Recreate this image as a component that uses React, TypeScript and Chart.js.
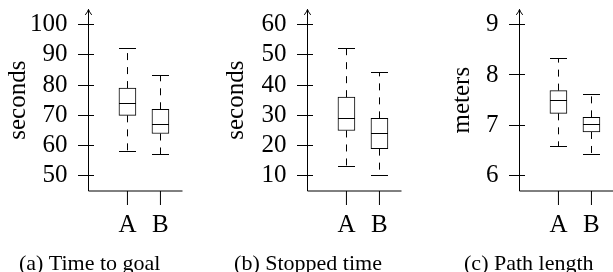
import React, { useEffect, useRef } from "react";
import { Chart, registerables } from "chart.js";

Chart.register(...registerables);

// ---- data ----
const categories = ["A", "B"];
const categoryPositions = [1, 2];

// (a) Time to goal, seconds
const timeMin = [58, 57];
const timeQ1 = [70, 64];
const timeMedian = [74, 67];
const timeQ3 = [79, 72];
const timeMax = [92, 83];
const timeTicks = [50, 60, 70, 80, 90, 100];

// (b) Stopped time, seconds
const stopMin = [13, 10];
const stopQ1 = [25, 19];
const stopMedian = [29, 24];
const stopQ3 = [36, 29];
const stopMax = [52, 44];
const stopTicks = [10, 20, 30, 40, 50, 60];

// (c) Path length, meters
const pathMin = [6.58, 6.43];
const pathQ1 = [7.24, 6.87];
const pathMedian = [7.5, 7.01];
const pathQ3 = [7.69, 7.16];
const pathMax = [8.32, 7.61];
const pathTicks = [6, 7, 8, 9];

// ---- layout constants ----
const W = 613;
const H = 272;
const FONT = '"Liberation Serif", "Times New Roman", serif';
const AXIS_LEN = 94;
const X_MIN = -0.18;
const X_UNIT = 33;
const TOP = 9.4;
const BOTTOM = 191;
const X_SCALE_H = 60;
const Y_SCALE_W = 85;
const BOX_W = 17;

type Panel = {
  axisLeft: number;
  yMin: number;
  yMax: number;
  ticks: number[];
  lo: number[];
  q1: number[];
  med: number[];
  q3: number[];
  hi: number[];
  title: string;
  titleX: number;
  caption: string;
  captionX: number;
};

const panels: Panel[] = [
  { axisLeft: 88.5, yMin: 45, yMax: 105, ticks: timeTicks, lo: timeMin, q1: timeQ1, med: timeMedian, q3: timeQ3, hi: timeMax, title: "seconds", titleX: 25, caption: "(a) Time to goal", captionX: 89.7 },
  { axisLeft: 307.5, yMin: 5, yMax: 65, ticks: stopTicks, lo: stopMin, q1: stopQ1, med: stopMedian, q3: stopQ3, hi: stopMax, title: "seconds", titleX: 243.3, caption: "(b) Stopped time", captionX: 308 },
  { axisLeft: 519.5, yMin: 5.7, yMax: 9.3, ticks: pathTicks, lo: pathMin, q1: pathQ1, med: pathMedian, q3: pathQ3, hi: pathMax, title: "meters", titleX: 469.3, caption: "(c) Path length", captionX: 528.8 },
];

const snap = (v: number) => Math.round(v - 0.5) + 0.5;

function makeConfig(p: Panel): any {
  const right = Math.min(p.axisLeft + AXIS_LEN, W);
  const xMax = X_MIN + (right - p.axisLeft) / X_UNIT;
  const plugin = {
    id: "boxplotDecor",
    afterDatasetsDraw(chart: any) {
      const ctx = chart.ctx as CanvasRenderingContext2D;
      const { left, top, bottom } = chart.chartArea;
      const xs = chart.scales.x;
      const ys = chart.scales.y;
      ctx.save();
      ctx.strokeStyle = "#000";
      ctx.fillStyle = "#000";
      ctx.lineWidth = 1;
      // y axis with arrow
      ctx.beginPath();
      ctx.moveTo(left, bottom);
      ctx.lineTo(left, top);
      ctx.stroke();
      ctx.beginPath();
      ctx.moveTo(left - 3.2, top + 5.5);
      ctx.quadraticCurveTo(left - 0.6, top + 2.2, left, top);
      ctx.quadraticCurveTo(left + 0.6, top + 2.2, left + 3.2, top + 5.5);
      ctx.stroke();
      // y ticks
      ctx.beginPath();
      for (const v of p.ticks) {
        const y = snap(ys.getPixelForValue(v));
        ctx.moveTo(left - 10.5, y);
        ctx.lineTo(left + 5.5, y);
      }
      ctx.stroke();
      // x axis
      ctx.beginPath();
      ctx.moveTo(left, bottom);
      ctx.lineTo(left + AXIS_LEN, bottom);
      ctx.stroke();
      // x ticks
      ctx.beginPath();
      for (const c of categoryPositions) {
        const x = xs.getPixelForValue(c);
        ctx.moveTo(x, bottom);
        ctx.lineTo(x, bottom + 14);
      }
      ctx.stroke();
      // whiskers, caps, medians
      categoryPositions.forEach((c, i) => {
        const x = snap(xs.getPixelForValue(c));
        const half = BOX_W / 2;
        const yHi = snap(ys.getPixelForValue(p.hi[i]));
        const yLo = snap(ys.getPixelForValue(p.lo[i]));
        const yQ1 = ys.getPixelForValue(p.q1[i]);
        const yQ3 = ys.getPixelForValue(p.q3[i]);
        const yMed = snap(ys.getPixelForValue(p.med[i]));
        ctx.setLineDash([7, 7]);
        ctx.beginPath();
        ctx.moveTo(x, yQ3);
        ctx.lineTo(x, yHi);
        ctx.stroke();
        ctx.beginPath();
        ctx.moveTo(x, yQ1);
        ctx.lineTo(x, yLo);
        ctx.stroke();
        ctx.setLineDash([]);
        ctx.beginPath();
        ctx.moveTo(x - half, yHi);
        ctx.lineTo(x + half, yHi);
        ctx.moveTo(x - half, yLo);
        ctx.lineTo(x + half, yLo);
        ctx.moveTo(x - half, yMed);
        ctx.lineTo(x + half, yMed);
        ctx.stroke();
      });
      // axis title
      ctx.font = `25px ${FONT}`;
      ctx.textAlign = "center";
      ctx.textBaseline = "alphabetic";
      ctx.save();
      ctx.translate(p.titleX, (top + bottom) / 2);
      ctx.rotate(-Math.PI / 2);
      ctx.fillText(p.title, 0, 0);
      ctx.restore();
      // caption
      ctx.font = `22px ${FONT}`;
      ctx.fillText(p.caption, p.captionX, 270);
      ctx.restore();
    },
  };

  return {
    type: "bar",
    data: {
      datasets: [
        {
          data: categoryPositions.map((c, i) => ({ x: c, y: [p.q1[i], p.q3[i]] })),
          backgroundColor: "#fff",
          borderColor: "#000",
          borderWidth: 1,
          borderSkipped: false,
          barThickness: BOX_W,
        },
      ],
    },
    options: {
      responsive: false,
      animation: false,
      events: [],
      layout: {
        padding: {
          left: p.axisLeft - Y_SCALE_W,
          right: W - right,
          top: TOP,
          bottom: H - BOTTOM - X_SCALE_H,
        },
      },
      plugins: { legend: { display: false }, tooltip: { enabled: false }, title: { display: false } },
      scales: {
        x: {
          type: "linear",
          min: X_MIN,
          max: xMax,
          offset: false,
          grid: { display: false, drawTicks: false, offset: false },
          border: { display: false },
          afterBuildTicks: (s: any) => {
            s.ticks = categoryPositions.map((v) => ({ value: v }));
          },
          ticks: {
            autoSkip: false,
            maxRotation: 0,
            padding: 19.5,
            color: "#000",
            font: { family: FONT, size: 25 },
            callback: (_v: any, i: number) => categories[i],
          },
          afterFit: (s: any) => {
            s.height = X_SCALE_H;
            s.paddingLeft = 0;
            s.paddingRight = 0;
            s.paddingTop = 0;
            s.paddingBottom = 0;
          },
        },
        y: {
          type: "linear",
          min: p.yMin,
          max: p.yMax,
          grid: { display: false, drawTicks: false },
          border: { display: false },
          afterBuildTicks: (s: any) => {
            s.ticks = p.ticks.map((v) => ({ value: v }));
          },
          ticks: {
            padding: 21,
            color: "#000",
            font: { family: FONT, size: 25 },
          },
          afterFit: (s: any) => {
            s.width = Y_SCALE_W;
            s.paddingLeft = 0;
            s.paddingRight = 0;
            s.paddingTop = 0;
            s.paddingBottom = 0;
          },
        },
      },
    },
    plugins: [plugin],
  };
}

function PanelCanvas({ panel }: { panel: Panel }) {
  const ref = useRef<HTMLCanvasElement | null>(null);
  useEffect(() => {
    if (!ref.current) return;
    const chart = new Chart(ref.current, makeConfig(panel));
    return () => chart.destroy();
  }, [panel]);
  return (
    <canvas
      ref={ref}
      width={W}
      height={H}
      style={{ position: "absolute", left: 0, top: 0, width: W, height: H }}
    />
  );
}

export default function App() {
  return (
    <div style={{ position: "absolute", left: 0, top: 0, width: W, height: H, background: "#fff" }}>
      {panels.map((p, i) => (
        <PanelCanvas key={i} panel={p} />
      ))}
    </div>
  );
}
